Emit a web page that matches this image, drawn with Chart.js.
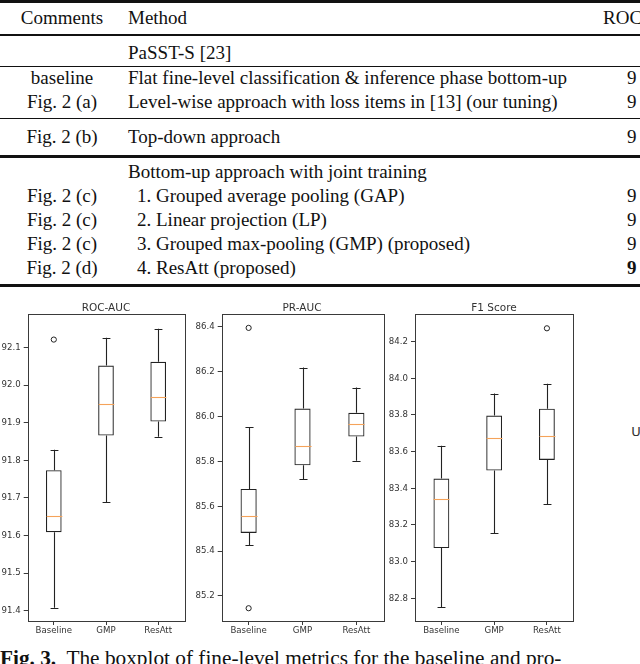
<!DOCTYPE html>
<html>
<head>
<meta charset="utf-8">
<script src="https://cdn.jsdelivr.net/npm/chart.js@4.4.0/dist/chart.umd.min.js"></script>
<style>
  body { margin: 0; background: #fff; }
  #page { position: relative; width: 640px; height: 664px; overflow: hidden; background: #fff; }
  .cell { position: absolute; font-family: "Liberation Serif", "Times New Roman", serif; font-size: 19px; line-height: 22px; color: #111; white-space: nowrap; }
  .rule { position: absolute; left: 0; width: 640px; background: #111; }
  .title { position: absolute; font-family: "DejaVu Sans", sans-serif; font-size: 10.5px; line-height: 12px; color: #333; white-space: nowrap; transform: translateX(-50%); }
  canvas { position: absolute; }
  #caption { position: absolute; left: 0; top: 646px; font-family: "Liberation Serif", serif; font-size: 21.3px; line-height: 24px; color: #111; white-space: nowrap; }
</style>
</head>
<body>
<div id="page">
  <canvas id="rocChart" width="190" height="340" style="left:0px;top:300px"></canvas>
  <canvas id="prChart" width="200" height="340" style="left:190px;top:300px"></canvas>
  <canvas id="f1Chart" width="200" height="340" style="left:380px;top:300px"></canvas>
  <div class="title" style="left:106px;top:301px">ROC-AUC</div>
  <div class="title" style="left:302px;top:301px">PR-AUC</div>
  <div class="title" style="left:494px;top:301px">F1 Score</div>
  <div class="title" style="left:636px;top:424px;font-size:13px;line-height:15px">U</div>
  <div id="caption"><b>Fig. 3.</b>&nbsp; The boxplot of fine-level metrics for the baseline and pro-</div>
</div>
<script>
const categories = ['Baseline', 'GMP', 'ResAtt'];

// ROC-AUC
const rocLow = [91.408, 91.689, 91.863];
const rocQ1 = [91.609, 91.866, 91.903];
const rocMedian = [91.652, 91.950, 91.968];
const rocQ3 = [91.774, 92.052, 92.062];
const rocHigh = [91.828, 92.126, 92.150];
const rocOutliers = [{ x: 'Baseline', y: 92.121 }];
const rocTicks = [91.4, 91.5, 91.6, 91.7, 91.8, 91.9, 92.0, 92.1];

// PR-AUC
const prLow = [85.427, 85.721, 85.803];
const prQ1 = [85.481, 85.783, 85.911];
const prMedian = [85.557, 85.870, 85.967];
const prQ3 = [85.677, 86.036, 86.017];
const prHigh = [85.954, 86.219, 86.130];
const prOutliers = [{ x: 'Baseline', y: 86.396 }, { x: 'Baseline', y: 85.145 }];
const prTicks = [85.2, 85.4, 85.6, 85.8, 86.0, 86.2, 86.4];

// F1 Score
const f1Low = [82.750, 83.155, 83.313];
const f1Q1 = [83.074, 83.497, 83.555];
const f1Median = [83.340, 83.672, 83.685];
const f1Q3 = [83.453, 83.797, 83.834];
const f1High = [83.632, 83.917, 83.970];
const f1Outliers = [{ x: 'ResAtt', y: 84.273 }];
const f1Ticks = [82.8, 83.0, 83.2, 83.4, 83.6, 83.8, 84.0, 84.2];

// table text
const tableRows = [
  { y: 18, comment: 'Comments', method: 'Method', value: 'ROC' },
  { y: 53, comment: '', method: 'PaSST-S [23]', value: '' },
  { y: 78, comment: 'baseline', method: 'Flat fine-level classification & inference phase bottom-up', value: '9' },
  { y: 102, comment: 'Fig. 2 (a)', method: 'Level-wise approach with loss items in [13] (our tuning)', value: '9' },
  { y: 137, comment: 'Fig. 2 (b)', method: 'Top-down approach', value: '9' },
  { y: 172, comment: '', method: 'Bottom-up approach with joint training', value: '' },
  { y: 196, comment: 'Fig. 2 (c)', method: '1. Grouped average pooling (GAP)', value: '9', indent: true },
  { y: 220, comment: 'Fig. 2 (c)', method: '2. Linear projection (LP)', value: '9', indent: true },
  { y: 244, comment: 'Fig. 2 (c)', method: '3. Grouped max-pooling (GMP) (proposed)', value: '9', indent: true },
  { y: 268, comment: 'Fig. 2 (d)', method: '4. ResAtt (proposed)', value: '9', indent: true, bold: true }
];
const tableRules = [[0, 3], [34, 2], [66, 1], [118, 1], [155, 3], [284, 3]];

function buildTable() {
  const page = document.getElementById('page');
  tableRules.forEach(([top, h]) => {
    const r = document.createElement('div');
    r.className = 'rule';
    r.style.top = top + 'px';
    r.style.height = h + 'px';
    page.appendChild(r);
  });
  tableRows.forEach(row => {
    const top = (row.y - 11) + 'px';
    if (row.comment) {
      const c = document.createElement('div');
      c.className = 'cell';
      c.textContent = row.comment;
      c.style.top = top;
      c.style.left = '62px';
      c.style.transform = 'translateX(-50%)';
      page.appendChild(c);
    }
    const m = document.createElement('div');
    m.className = 'cell';
    m.textContent = row.method;
    m.style.top = top;
    m.style.left = (row.indent ? 137 : 128) + 'px';
    page.appendChild(m);
    if (row.value) {
      const v = document.createElement('div');
      v.className = 'cell';
      v.textContent = row.value;
      v.style.top = top;
      v.style.left = (row.value === 'ROC' ? 603 : 627) + 'px';
      if (row.bold) v.style.fontWeight = 'bold';
      page.appendChild(v);
    }
  });
}

// whiskers, caps and medians drawn from the chart's scales
const boxPlugin = {
  id: 'boxParts',
  afterDatasetsDraw(chart) {
    const { ctx, scales: { x, y } } = chart;
    const s = chart.options.plugins.boxParts;
    const catW = x.getPixelForValue(1) - x.getPixelForValue(0);
    const boxW = catW * 0.3;
    ctx.save();
    ctx.lineWidth = 1.1;
    categories.forEach((c, i) => {
      const cx = Math.round(x.getPixelForValue(i)) + 0.5;
      ctx.strokeStyle = '#222';
      ctx.beginPath();
      ctx.moveTo(cx, y.getPixelForValue(s.low[i]));
      ctx.lineTo(cx, y.getPixelForValue(s.q1[i]));
      ctx.moveTo(cx, y.getPixelForValue(s.q3[i]));
      ctx.lineTo(cx, y.getPixelForValue(s.high[i]));
      [s.low[i], s.high[i]].forEach(v => {
        const py = Math.round(y.getPixelForValue(v)) + 0.5;
        ctx.moveTo(cx - boxW / 4, py);
        ctx.lineTo(cx + boxW / 4, py);
      });
      ctx.stroke();
      ctx.strokeStyle = '#f5a35a';
      ctx.beginPath();
      const my = Math.round(y.getPixelForValue(s.median[i])) + 0.5;
      ctx.moveTo(cx - boxW / 2, my);
      ctx.lineTo(cx + boxW / 2, my);
      ctx.stroke();
    });
    // axes frame
    const a = chart.chartArea;
    ctx.lineWidth = 1;
    ctx.strokeStyle = '#3a3a3a';
    ctx.strokeRect(Math.round(a.left) + 0.5, Math.round(a.top) + 0.5, Math.round(a.right - a.left), Math.round(a.bottom - a.top));
    ctx.restore();
  }
};

function makeBoxChart(id, low, q1, median, q3, high, outliers, ticks, yMin, yMax, axisWidth, padRight) {
  const ctx = document.getElementById(id).getContext('2d');
  return new Chart(ctx, {
    type: 'bar',
    data: {
      labels: categories,
      datasets: [{
        data: categories.map((c, i) => [q1[i], q3[i]]),
        backgroundColor: 'rgba(0,0,0,0)',
        borderColor: '#222',
        borderWidth: 1.1,
        borderSkipped: false,
        barPercentage: 0.3,
        categoryPercentage: 1
      }, {
        type: 'line',
        data: outliers,
        showLine: false,
        pointStyle: 'circle',
        pointRadius: 2.6,
        pointBorderWidth: 1,
        pointBorderColor: '#222',
        pointBackgroundColor: 'rgba(0,0,0,0)'
      }]
    },
    options: {
      responsive: false,
      animation: false,
      devicePixelRatio: 1,
      layout: { padding: { top: 14, right: padRight, left: 0, bottom: 0 } },
      plugins: {
        legend: { display: false },
        tooltip: { enabled: false },
        boxParts: { low, q1, median, q3, high }
      },
      scales: {
        x: {
          offset: true,
          grid: { display: true, drawOnChartArea: false, drawTicks: true, tickLength: 4, color: '#3a3a3a', offset: false },
          border: { display: false },
          ticks: { color: '#333', font: { family: 'DejaVu Sans', size: 8.6 }, padding: 1, maxRotation: 0 },
          afterFit: (scale) => { scale.height = 19; }
        },
        y: {
          min: yMin,
          max: yMax,
          grid: { display: true, drawOnChartArea: false, drawTicks: true, tickLength: 4, color: '#3a3a3a' },
          border: { display: false },
          ticks: {
            color: '#333',
            font: { family: 'DejaVu Sans', size: 8.6 },
            padding: 3,
            callback: (v) => v.toFixed(1)
          },
          afterBuildTicks: (scale) => { scale.ticks = ticks.map(v => ({ value: v })); },
          afterFit: (scale) => { scale.width = axisWidth; }
        }
      }
    },
    plugins: [boxPlugin]
  });
}

document.addEventListener('DOMContentLoaded', () => {
  buildTable();
  makeBoxChart('rocChart', rocLow, rocQ1, rocMedian, rocQ3, rocHigh, rocOutliers, rocTicks, 91.373, 92.189, 27.7, 5.7);
  makeBoxChart('prChart', prLow, prQ1, prMedian, prQ3, prHigh, prOutliers, prTicks, 85.088, 86.458, 31.7, 6.7);
  makeBoxChart('f1Chart', f1Low, f1Q1, f1Median, f1Q3, f1High, f1Outliers, f1Ticks, 82.676, 84.351, 35, 6.7);
});
</script>
</body>
</html>
